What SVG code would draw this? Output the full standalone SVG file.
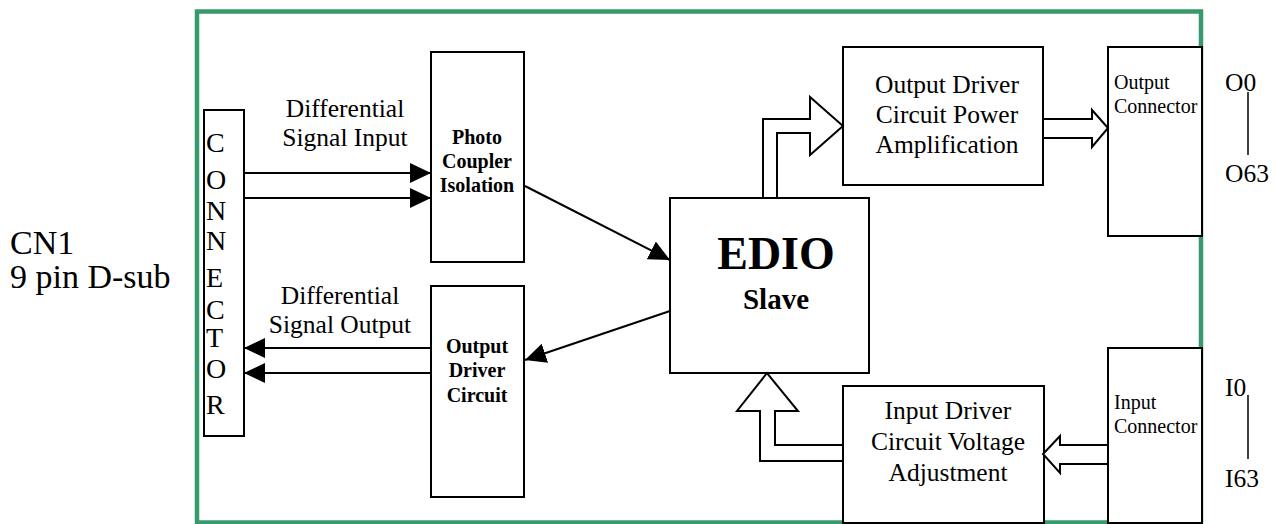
<svg xmlns="http://www.w3.org/2000/svg" width="1277" height="524" viewBox="0 0 1277 524">
<style>
  text { font-family: "Liberation Serif", "Times New Roman", serif; fill: #000; }
  .reg { font-size: 25.5px; }
  .bold { font-size: 20px; font-weight: bold; }
  .small { font-size: 20px; }
  .box { fill: #fff; stroke: #000; stroke-width: 2; }
  .fat { fill: #fff; stroke: #000; stroke-width: 2; stroke-linejoin: miter; }
  .wire { stroke: #000; stroke-width: 2; fill: none; }
</style>
<defs>
  <marker id="ah" markerUnits="userSpaceOnUse" markerWidth="22" markerHeight="22" refX="21" refY="10" orient="auto">
    <path d="M0,0 L21,10 L0,20 Z" fill="#000"/>
  </marker>
</defs>
<rect width="1277" height="524" fill="#fff"/>
<g id="board">
  <rect x="197" y="11.5" width="1004" height="511" fill="none" stroke="#379a6a" stroke-width="4.5"/>
</g>
<g id="cn1-label">
  <text x="10" y="254" style="font-size:34px">CN1</text>
  <text x="10" y="288" style="font-size:34px">9 pin D-sub</text>
</g>
<g id="connector">
  <rect class="box" x="204" y="110" width="40" height="326"/>
  <text x="206" y="152" style="font-size:28px">C</text>
  <text x="206" y="189" style="font-size:28px">O</text>
  <text x="206" y="220" style="font-size:28px">N</text>
  <text x="206" y="250" style="font-size:28px">N</text>
  <text x="206" y="287" style="font-size:28px">E</text>
  <text x="206" y="319" style="font-size:28px">C</text>
  <text x="206" y="347" style="font-size:28px">T</text>
  <text x="206" y="378" style="font-size:28px">O</text>
  <text x="206" y="414" style="font-size:28px">R</text>
</g>
<g id="photo-coupler">
  <rect class="box" x="431" y="52" width="93" height="210"/>
  <text class="bold" x="477" y="144" text-anchor="middle">Photo</text>
  <text class="bold" x="477" y="168" text-anchor="middle">Coupler</text>
  <text class="bold" x="477" y="192" text-anchor="middle">Isolation</text>
</g>
<g id="output-driver-circuit">
  <rect class="box" x="431" y="286" width="93" height="211"/>
  <text class="bold" x="477" y="353" text-anchor="middle">Output</text>
  <text class="bold" x="477" y="377" text-anchor="middle">Driver</text>
  <text class="bold" x="477" y="402" text-anchor="middle">Circuit</text>
</g>
<g id="edio">
  <rect class="box" x="670" y="198" width="199" height="175"/>
  <text x="776" y="269" text-anchor="middle" style="font-size:46px;font-weight:bold">EDIO</text>
  <text x="776" y="309" text-anchor="middle" style="font-size:29px;font-weight:bold">Slave</text>
</g>
<g id="output-power">
  <rect class="box" x="843" y="47" width="200" height="138"/>
  <text class="reg" x="947" y="93" text-anchor="middle">Output Driver</text>
  <text class="reg" x="947" y="123" text-anchor="middle">Circuit Power</text>
  <text class="reg" x="947" y="153" text-anchor="middle">Amplification</text>
</g>
<g id="input-voltage">
  <rect class="box" x="843" y="386" width="201" height="137"/>
  <text class="reg" x="948" y="419" text-anchor="middle">Input Driver</text>
  <text class="reg" x="948" y="450" text-anchor="middle">Circuit Voltage</text>
  <text class="reg" x="948" y="481" text-anchor="middle">Adjustment</text>
</g>
<g id="output-connector">
  <rect class="box" x="1108" y="47" width="94" height="189"/>
  <text class="small" x="1114" y="89">Output</text>
  <text class="small" x="1114" y="113">Connector</text>
</g>
<g id="input-connector">
  <rect class="box" x="1108" y="348" width="94" height="175"/>
  <text class="small" x="1114" y="409">Input</text>
  <text class="small" x="1114" y="433">Connector</text>
</g>
<g id="io-labels">
  <text class="reg" x="1225" y="91">O0</text>
  <line x1="1248" y1="92" x2="1248" y2="155" stroke="#000" stroke-width="1.5"/>
  <text class="reg" x="1225" y="182">O63</text>
  <text class="reg" x="1225" y="396">I0</text>
  <line x1="1248" y1="395" x2="1248" y2="459" stroke="#000" stroke-width="1.5"/>
  <text class="reg" x="1225" y="487">I63</text>
</g>
<g id="connectors">
  <line class="wire" x1="244" y1="173" x2="431" y2="173" marker-end="url(#ah)"/>
  <line class="wire" x1="244" y1="198" x2="431" y2="198" marker-end="url(#ah)"/>
  <line class="wire" x1="431" y1="348" x2="244" y2="348" marker-end="url(#ah)"/>
  <line class="wire" x1="431" y1="373" x2="244" y2="373" marker-end="url(#ah)"/>
  <line class="wire" x1="525" y1="186" x2="670" y2="260" marker-end="url(#ah)"/>
  <line class="wire" x1="670" y1="311" x2="525" y2="360" marker-end="url(#ah)"/>
  <polygon class="fat" points="763,198 763,119 810,119 810,97 843,126 810,155 810,133 777,133 777,198"/>
  <polygon class="fat" points="1043,119 1092,119 1092,110 1108,128 1092,147 1092,138 1043,138"/>
  <polygon class="fat" points="1108,445 1060,445 1060,436 1043,454 1060,473 1060,464 1108,464"/>
  <polygon class="fat" points="843,461 760,461 760,411 737,411 767,373 798,411 775,411 775,445 843,445"/>
  <text class="reg" x="345" y="117" text-anchor="middle">Differential</text>
  <text class="reg" x="345" y="146" text-anchor="middle">Signal Input</text>
  <text class="reg" x="340" y="304" text-anchor="middle">Differential</text>
  <text class="reg" x="340" y="333" text-anchor="middle">Signal Output</text>
</g>
</svg>
